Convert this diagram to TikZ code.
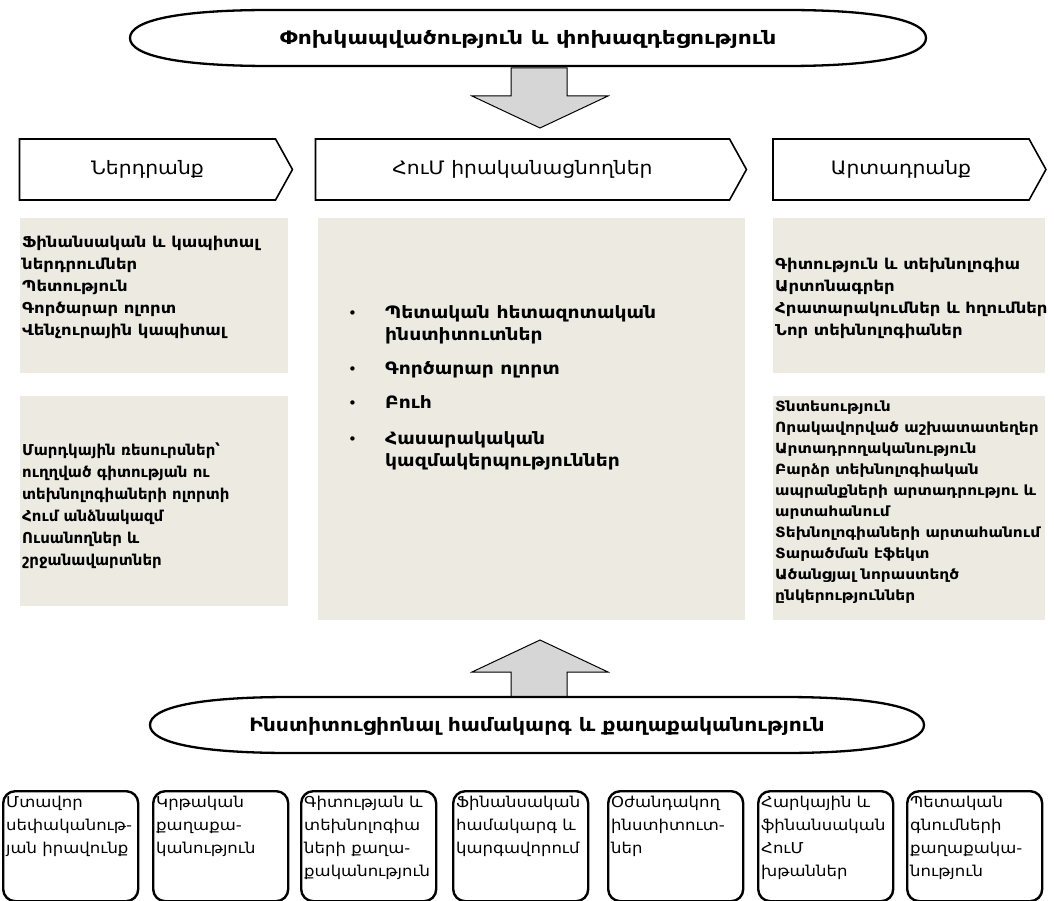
\documentclass[tikz,border=0pt]{standalone}
\usepackage{fontspec}
\setmainfont{DejaVu Sans}
\newfontfamily\wA{DejaVu Sans}[FakeStretch=1.1]
\newfontfamily\wB{DejaVu Sans}[FakeStretch=1.18]
\usetikzlibrary{shapes.symbols,calc}
\definecolor{panel}{RGB}{236,234,225}
\definecolor{arrowgray}{RGB}{214,214,214}
\begin{document}
\begin{tikzpicture}[x=1pt,y=-1pt,
  hdr/.style={signal, signal to=east, signal from=nowhere, draw, line width=1.6pt, fill=white,
    minimum height=61pt, signal pointer angle=122, inner sep=0pt, font=\wA\fontsize{18.5}{20}\selectfont},
  panelbox/.style={fill=panel, draw=none},
  ptext/.style={anchor=north west, align=left, inner sep=0pt, font=\wA\bfseries\fontsize{15}{22}\selectfont},
  elltext/.style={inner sep=0pt, font=\wB\bfseries\fontsize{18.5}{20}\selectfont},
  elline/.style={draw, line width=2.3pt, fill=white},
  blk/.style={draw, line width=1pt, fill=arrowgray, line join=miter},
  rbox/.style={draw, line width=2.4pt, rounded corners=12pt, minimum width=135pt, minimum height=110pt, anchor=north west, inner sep=0pt},
  btext/.style={anchor=north west, align=left, inner sep=0pt, font=\wA\fontsize{15}{23}\selectfont},
  bul/.style={anchor=west, inner sep=0pt, font=\fontsize{15}{20}\selectfont},
  mtext/.style={anchor=north west, align=left, inner sep=0pt, font=\wA\bfseries\fontsize{17}{22}\selectfont}
]
\useasboundingbox (0,0) rectangle (1054,901);

% top ellipse (flattened)
\coordinate (tW) at (130,38);
\coordinate (tE) at (926,38);
\draw[elline] (tW) .. controls ($(tW)+(0,-18)$) and ($(tW)+(50,-28)$) .. ($(tW)+(140,-28)$)
  -- ($(tE)+(-140,-28)$) .. controls ($(tE)+(-50,-28)$) and ($(tE)+(0,-18)$) .. (tE)
  .. controls ($(tE)+(0,18)$) and ($(tE)+(-50,28)$) .. ($(tE)+(-140,28)$)
  -- ($(tW)+(140,28)$) .. controls ($(tW)+(50,28)$) and ($(tW)+(0,18)$) .. (tW) -- cycle;
\node[elltext] (topell) at ($(tW)!0.5!(tE)+(0,1)$) {Փոխկապվածություն և փոխազդեցություն};

% down arrow
\draw[blk] (511,68) -- (567,68) -- (567,96) -- (608,96) -- (540,128) -- (472,96) -- (511,96) -- cycle;

% headers
\node[hdr, minimum width=273pt] (hin) at (147.5,169.5) {Ներդրանք};
\node[hdr, minimum width=431pt] (hmid) at (522.5,169.5) {ՀուՄ իրականացնողներ};
\node[hdr, minimum width=273pt] (hout) at (901,169.5) {Արտադրանք};

% panels
\fill[panelbox] (20,218) rectangle (288,373);
\fill[panelbox] (20,396) rectangle (288,606);
\fill[panelbox] (318,218) rectangle (745,620);
\fill[panelbox] (773,218) rectangle (1045,373);
\fill[panelbox] (773,396) rectangle (1045,620);

\node[ptext] (lt) at (22,236) {Ֆինանսական և կապիտալ\\ներդրումներ\\Պետություն\\Գործարար ոլորտ\\Վենչուրային կապիտալ};
\node[ptext, font=\bfseries\fontsize{15}{22}\selectfont] (lb) at (22,443) {Մարդկային ռեսուրսներ՝\\ուղղված գիտության ու\\տեխնոլոգիաների ոլորտի\\Հում անձնակազմ\\Ուսանողներ և\\շրջանավարտներ};
\node[ptext, font=\wA\bfseries\fontsize{15}{22}\selectfont] (rt) at (775,258) {Գիտություն և տեխնոլոգիա\\Արտոնագրեր\\Հրատարակումներ և հղումներ\\Նոր տեխնոլոգիաներ};
\node[ptext, font=\wA\bfseries\fontsize{14}{21}\selectfont] (rb) at (775,401) {Տնտեսություն\\Որակավորված աշխատատեղեր\\Արտադրողականություն\\Բարձր տեխնոլոգիական\\ապրանքների արտադրությու և\\արտահանում\\Տեխնոլոգիաների արտահանում\\Տարածման էֆեկտ\\Ածանցյալ նորաստեղծ\\ընկերություններ};

% middle bullets
\node[bul] (b1) at (348,315) {•};
\node[mtext] (m1) at (385,305) {Պետական հետազոտական\\ինստիտուտներ};
\node[bul] (b2) at (348,371) {•};
\node[mtext] (m2) at (385,361) {Գործարար ոլորտ};
\node[bul] (b3) at (348,405) {•};
\node[mtext] (m3) at (385,395) {Բուհ};
\node[bul] (b4) at (348,441) {•};
\node[mtext] (m4) at (385,431) {Հասարակական\\կազմակերպություններ};

% up arrow
\draw[blk] (511,697) -- (567,697) -- (567,672) -- (608,672) -- (540,640) -- (472,672) -- (511,672) -- cycle;

% bottom ellipse (flattened)
\coordinate (bW) at (150,725);
\coordinate (bE) at (924,725);
\draw[elline] (bW) .. controls ($(bW)+(0,-18)$) and ($(bW)+(50,-28)$) .. ($(bW)+(140,-28)$)
  -- ($(bE)+(-140,-28)$) .. controls ($(bE)+(-50,-28)$) and ($(bE)+(0,-18)$) .. (bE)
  .. controls ($(bE)+(0,18)$) and ($(bE)+(-50,28)$) .. ($(bE)+(-140,28)$)
  -- ($(bW)+(140,28)$) .. controls ($(bW)+(50,28)$) and ($(bW)+(0,18)$) .. (bW) -- cycle;
\node[elltext, font=\wA\bfseries\fontsize{18.5}{20}\selectfont] (botell) at ($(bW)!0.5!(bE)+(0,1)$) {Ինստիտուցիոնալ համակարգ և քաղաքականություն};

% bottom boxes
\node[rbox] (k1) at (2,790) {};
\node[rbox] (k2) at (152,790) {};
\node[rbox] (k3) at (300,790) {};
\node[rbox] (k4) at (452,790) {};
\node[rbox] (k5) at (607,790) {};
\node[rbox] (k6) at (757,790) {};
\node[rbox] (k7) at (906,790) {};
\node[btext] (t1) at (6,796) {Մտավոր\\սեփականութ-\\յան իրավունք};
\node[btext] (t2) at (156,796) {Կրթական\\քաղաքա-\\կանություն};
\node[btext] (t3) at (304,796) {Գիտության և\\տեխնոլոգիա\\ների քաղա-\\քականություն};
\node[btext] (t4) at (456,796) {Ֆինանսական\\համակարգ և\\կարգավորում};
\node[btext] (t5) at (611,796) {Օժանդակող\\ինստիտուտ-\\ներ};
\node[btext] (t6) at (761,796) {Հարկային և\\ֆինանսական\\ՀուՄ\\խթաններ};
\node[btext] (t7) at (910,796) {Պետական\\գնումների\\քաղաքակա-\\նություն};
\end{tikzpicture}
\end{document}
